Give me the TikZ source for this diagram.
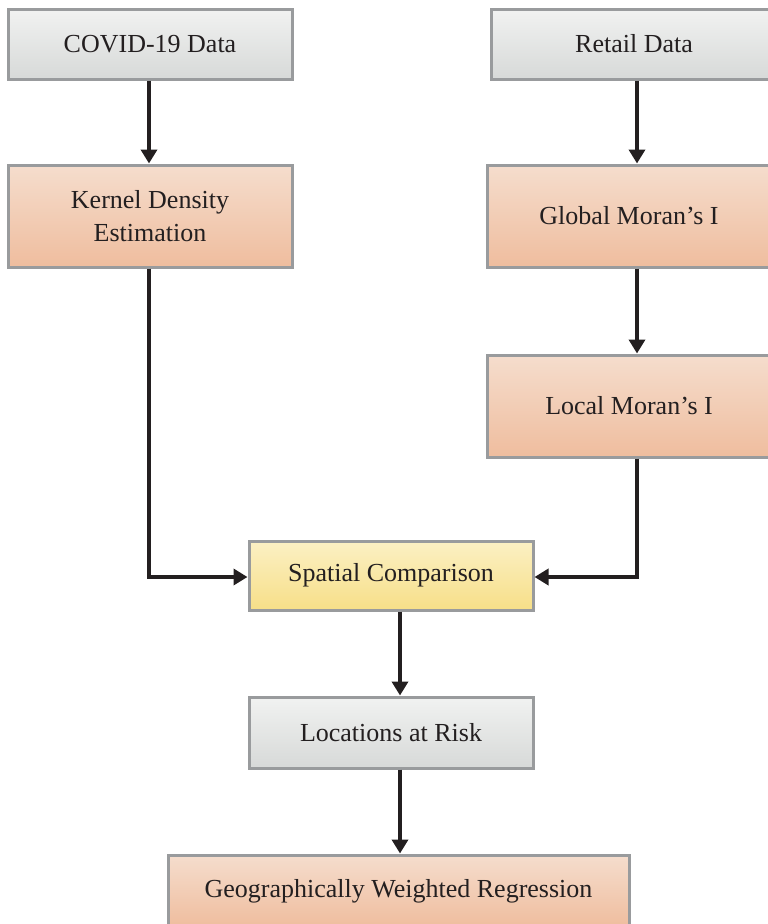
\documentclass[tikz,border=0pt]{standalone}
\usepackage{fontspec}
\setmainfont{Liberation Serif}
\usetikzlibrary{arrows.meta}
\definecolor{bordergray}{HTML}{999B9D}
\definecolor{graytop}{HTML}{F1F2F1}
\definecolor{graybot}{HTML}{D7D9D8}
\definecolor{orgtop}{HTML}{F5DDCD}
\definecolor{orgbot}{HTML}{EFBD9E}
\definecolor{yeltop}{HTML}{FBF0C4}
\definecolor{yelbot}{HTML}{F7DF88}
\definecolor{arrowc}{HTML}{231F20}
\tikzset{
  box/.style={draw=bordergray, line width=3pt, rectangle, align=center,
    font=\fontsize{26}{33}\selectfont, text=arrowc, inner sep=0pt},
  graybox/.style={box, top color=graytop, bottom color=graybot},
  orgbox/.style={box, top color=orgtop, bottom color=orgbot},
  yelbox/.style={box, top color=yeltop, bottom color=yelbot},
  conn/.style={draw=arrowc, line width=4pt, -{Triangle[length=14pt,width=16pt]}}
}
\begin{document}
\begin{tikzpicture}[x=1pt,y=-1pt]
\useasboundingbox (0,0) rectangle (768,924);
\clip (0,0) rectangle (768,924);
\node[graybox, minimum width=284pt, minimum height=70pt] (covid) at (150,44) {COVID-19 Data};
\node[graybox, minimum width=286pt, minimum height=70pt] (retail) at (634,44) {Retail Data};
\node[orgbox, minimum width=284pt, minimum height=102pt] (kde) at (150,216) {Kernel Density\\Estimation};
\node[orgbox, minimum width=284pt, minimum height=102pt] (global) at (629,216) {Global Moran’s I};
\node[orgbox, minimum width=284pt, minimum height=102pt] (local) at (629,406) {Local Moran’s I};
\node[yelbox, minimum width=284pt, minimum height=69pt] (spatial) at (391,575.5) {Spatial Comparison};
\node[graybox, minimum width=284pt, minimum height=71pt] (risk) at (391,732.5) {Locations at Risk};
\node[orgbox, minimum width=461pt, minimum height=72pt] (gwr) at (398.5,891) {Geographically Weighted Regression};

\coordinate (xl) at (149,0);
\coordinate (xr) at (637,0);
\coordinate (xm) at (400,0);
\coordinate (ym) at (0,577);

\draw[conn] (covid.south -| xl) -- (kde.north -| xl);
\draw[conn] (retail.south -| xr) -- (global.north -| xr);
\draw[conn] (global.south -| xr) -- (local.north -| xr);
\draw[conn] (kde.south -| xl) |- (spatial.west |- ym);
\draw[conn] (local.south -| xr) |- (spatial.east |- ym);
\draw[conn] (spatial.south -| xm) -- (risk.north -| xm);
\draw[conn] (risk.south -| xm) -- (gwr.north -| xm);
\end{tikzpicture}
\end{document}
